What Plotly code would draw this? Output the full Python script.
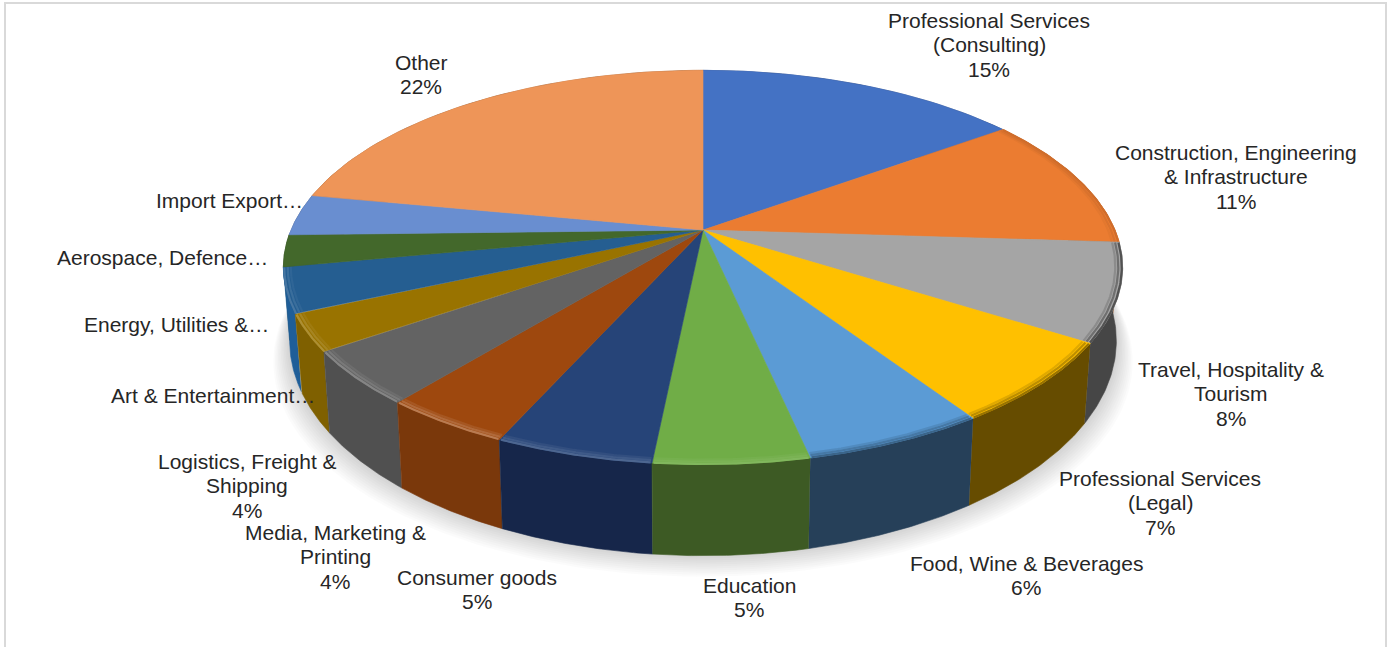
import numpy as np
import plotly.graph_objects as go

# ---- data ----
categories = [
    "Professional Services<br>(Consulting)", "Construction, Engineering<br>& Infrastructure",
    "Travel, Hospitality &<br>Tourism", "Professional Services<br>(Legal)",
    "Food, Wine & Beverages", "Education", "Consumer goods",
    "Media, Marketing &<br>Printing", "Logistics, Freight &<br>Shipping",
    "Art & Entertainment…", "Energy, Utilities &…", "Aerospace, Defence…",
    "Import Export…", "Other",
]
values = [15, 11, 8, 6.7, 5.9, 5.0, 5.1, 4.2, 4.4, 3.0, 3.7, 2.6, 3.4, 22]
show_percent = [True] * 9 + [False] * 4 + [True]

# ---- style ----
top_colors = ["#4472C4", "#EB7C31", "#A5A5A5", "#FFC000", "#5B9BD5", "#70AD47", "#264478",
              "#9E480E", "#636363", "#997300", "#255E91", "#43682B", "#698ED0", "#EE9558"]
wall_colors = ["#2a4578", "#8f4a1d", "#464646", "#664C00", "#264059", "#3D5A24", "#16264A",
               "#7A380B", "#505050", "#7F6000", "#1F5E98", "#2a401a", "#3f5680", "#8f5a36"]
bevel_mix = [0, -0.12, -0.5, -0.4, -0.35, 0.12, 0.18, 0.28, 0.22, 0.2, 0.15, 0, 0, 0]
label_x = [989, 1236, 1231, 1160, 1026, 749, 477, 335, 247, 213, 176, 162, 229, 421]
label_y = [44.5, 176.5, 393.5, 502.5, 575.5, 597.5, 589.5, 556.5, 485.5, 395.5, 324.5, 257.5, 200.5, 74.5]

# ---- projection of the tilted disc ----
CX, CY, RX, RY, K = 703, 230, 412, 190, 0.19


def top_xy(theta, r=1.0):
    """theta in radians clockwise from the top; returns page-scaled axis coordinates."""
    depth = r * np.cos(theta)
    den = 1 + K * depth
    return RX * r * np.sin(theta) / den, -RY * depth / den


def rgb(h):
    return tuple(int(h[i:i + 2], 16) for i in (1, 3, 5))


def mix(h, m):
    c = rgb(h)
    t = 255 if m > 0 else 0
    m = abs(m)
    return "rgb(%d,%d,%d)" % tuple(round(v + (t - v) * m) for v in c)


fig = go.Figure()


def poly(xs, ys, color, lw=0.6, line=None):
    fig.add_trace(go.Scatter(x=xs, y=ys, mode="lines", fill="toself", fillcolor=color,
                             line=dict(color=line or color, width=lw), hoverinfo="skip", showlegend=False))


# soft shadow under the disc
full = np.linspace(0, 2 * np.pi, 240)
fx, fy = top_xy(full)
for e in range(11, 0, -1):
    poly(CX + fx * 0.985 * (1 + 0.0036 * e), CY + (fy * 1.09 + 70) + 2.0 * e - 1,
         "rgba(0,0,0,0.017)", lw=0, line="rgba(0,0,0,0)")

total = sum(values)
edges = np.cumsum([0] + values) / total * 2 * np.pi
slices = list(range(len(values)))
mid = (edges[:-1] + edges[1:]) / 2

# side walls, far slices first
for i in sorted(slices, key=lambda s: -np.cos(mid[s])):
    t = np.linspace(edges[i], edges[i + 1], 50)
    X, Y = top_xy(t)
    wx = np.r_[CX + X, (CX + X * 0.985)[::-1]]
    wy = np.r_[CY + Y, (CY + Y * 1.09 + 70)[::-1]]
    poly(wx, wy, wall_colors[i])

# top faces
for i in slices:
    t = np.linspace(edges[i], edges[i + 1], 70)
    X, Y = top_xy(t)
    poly(np.r_[CX, CX + X, CX], np.r_[CY, CY + Y, CY], top_colors[i])

# bevel along the front rim, inner stroke first
for i in slices:
    if bevel_mix[i] == 0:
        continue
    t = np.linspace(edges[i] + 0.003, edges[i + 1] - 0.003, 50)
    for r, w, f in ((0.983, 2.2, 0.3), (0.99, 2.2, 0.65), (0.998, 2.2, 1.0)):
        X, Y = top_xy(t, r)
        fig.add_trace(go.Scatter(x=CX + X, y=CY + Y, mode="lines", hoverinfo="skip", showlegend=False,
                                 line=dict(color=mix(top_colors[i], bevel_mix[i] * f), width=w)))

LINE_GAP = 24.5
annotations = []
for name, v, show, lx, ly in zip(categories, values, show_percent, label_x, label_y):
    text = f"{name}<br>{round(v / total * 100)}%" if show else name
    rows = text.split("<br>")
    for j, row in enumerate(rows):
        annotations.append(dict(x=lx, y=ly + (j - (len(rows) - 1) / 2) * LINE_GAP, xref="x", yref="y",
                                text=row, showarrow=False, xanchor="center", yanchor="middle", align="center",
                                font=dict(family="Liberation Sans", size=21, color="#262626")))

fig.update_layout(
    width=1394, height=647, margin=dict(l=0, r=0, t=0, b=0, pad=0),
    paper_bgcolor="white", plot_bgcolor="white", showlegend=False,
    xaxis=dict(range=[0, 1394], visible=False, fixedrange=True),
    yaxis=dict(range=[647, 0], visible=False, fixedrange=True),
    annotations=annotations,
    shapes=[dict(type="rect", xref="x", yref="y", x0=5, y0=3, x1=1386, y1=670,
                 line=dict(color="#D9D9D9", width=2), layer="below")],
)
fig.write_html("out.html", config=dict(displayModeBar=False),
               post_script="document.body.style.margin='0';document.body.style.overflow='hidden';")
